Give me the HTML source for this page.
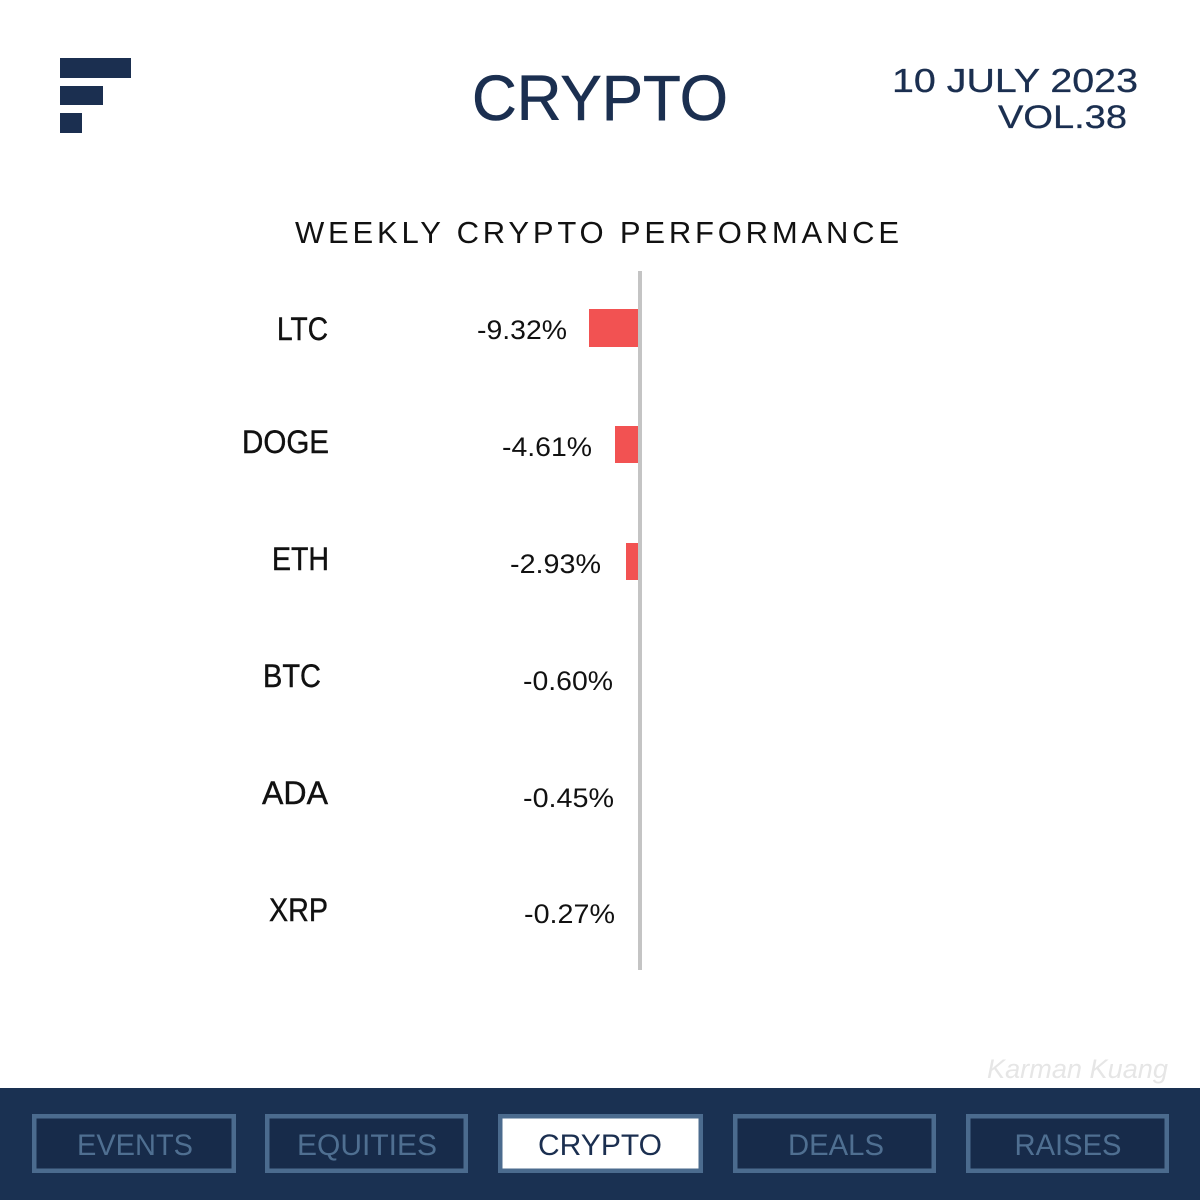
<!DOCTYPE html>
<html>
<head>
<meta charset="utf-8">
<style>
html,body{margin:0;padding:0;background:#fff;}
svg{display:block;}
text{font-family:"Liberation Sans",sans-serif;}
</style>
</head>
<body>
<svg width="1200" height="1200" viewBox="0 0 1200 1200" xmlns="http://www.w3.org/2000/svg">
  <rect x="0" y="0" width="1200" height="1200" fill="#ffffff"/>
  <!-- logo -->
  <rect x="60" y="58" width="71" height="20" fill="#1b2f50"/>
  <rect x="60" y="86" width="43" height="19" fill="#1b2f50"/>
  <rect x="60" y="113" width="22" height="20" fill="#1b2f50"/>
  <!-- header -->
  <text x="472" y="120" font-size="64" fill="#1b2f50" stroke="#1b2f50" stroke-width="0.6" textLength="256" lengthAdjust="spacingAndGlyphs">CRYPTO</text>
  <text x="892" y="92" font-size="33" fill="#1b2f50" stroke="#1b2f50" stroke-width="0.3" textLength="246" lengthAdjust="spacingAndGlyphs">10 JULY 2023</text>
  <text x="998" y="128" font-size="32" fill="#1b2f50" stroke="#1b2f50" stroke-width="0.3" textLength="129" lengthAdjust="spacingAndGlyphs">VOL.38</text>
  <!-- chart title -->
  <text x="295" y="243" font-size="31" fill="#111" textLength="604" lengthAdjust="spacing">WEEKLY CRYPTO PERFORMANCE</text>
  <!-- bars -->
  <rect x="589" y="309" width="49" height="38" fill="#f25252"/>
  <rect x="615" y="426" width="23" height="37" fill="#f25252"/>
  <rect x="626" y="543" width="12" height="37" fill="#f25252"/>
  <!-- axis -->
  <rect x="638" y="271" width="4" height="699" fill="#c4c4c4"/>
  <!-- labels -->
  <g font-size="32" fill="#111" stroke="#111" stroke-width="0.4">
    <text x="277" y="340" textLength="51" lengthAdjust="spacingAndGlyphs">LTC</text>
    <text x="242" y="453" textLength="87" lengthAdjust="spacingAndGlyphs">DOGE</text>
    <text x="272" y="570" textLength="57" lengthAdjust="spacingAndGlyphs">ETH</text>
    <text x="263" y="687" textLength="58" lengthAdjust="spacingAndGlyphs">BTC</text>
    <text x="262" y="804" textLength="66" lengthAdjust="spacingAndGlyphs">ADA</text>
    <text x="269" y="921" textLength="59" lengthAdjust="spacingAndGlyphs">XRP</text>
  </g>
  <g font-size="27" fill="#111">
    <text x="477" y="339" textLength="90" lengthAdjust="spacingAndGlyphs">-9.32%</text>
    <text x="502" y="456" textLength="90" lengthAdjust="spacingAndGlyphs">-4.61%</text>
    <text x="510" y="573" textLength="91" lengthAdjust="spacingAndGlyphs">-2.93%</text>
    <text x="523" y="690" textLength="90" lengthAdjust="spacingAndGlyphs">-0.60%</text>
    <text x="523" y="807" textLength="91" lengthAdjust="spacingAndGlyphs">-0.45%</text>
    <text x="524" y="923" textLength="91" lengthAdjust="spacingAndGlyphs">-0.27%</text>
  </g>
  <!-- watermark -->
  <text x="987" y="1078" font-size="27" font-style="italic" fill="#e6e6e6" textLength="181" lengthAdjust="spacingAndGlyphs">Karman Kuang</text>
  <!-- footer -->
  <rect x="0" y="1088" width="1200" height="112" fill="#1a3152"/>
  <g stroke="#4b6b8e" stroke-width="4.5">
    <rect x="34.25" y="1116.25" width="199.5" height="54.5" fill="#172b4a"/>
    <rect x="267.25" y="1116.25" width="198.5" height="54.5" fill="#172b4a"/>
    <rect x="500.25" y="1116.25" width="200.5" height="54.5" fill="#ffffff"/>
    <rect x="735.25" y="1116.25" width="198.5" height="54.5" fill="#172b4a"/>
    <rect x="968.25" y="1116.25" width="198.5" height="54.5" fill="#172b4a"/>
  </g>
  <g font-size="30" text-anchor="middle">
    <text x="135" y="1155" fill="#4f6f91" textLength="116" lengthAdjust="spacingAndGlyphs">EVENTS</text>
    <text x="367" y="1155" fill="#4f6f91" textLength="140" lengthAdjust="spacingAndGlyphs">EQUITIES</text>
    <text x="600" y="1155" fill="#1b2f50" textLength="124" lengthAdjust="spacingAndGlyphs">CRYPTO</text>
    <text x="836" y="1155" fill="#4f6f91" textLength="96" lengthAdjust="spacingAndGlyphs">DEALS</text>
    <text x="1068" y="1155" fill="#4f6f91" textLength="107" lengthAdjust="spacingAndGlyphs">RAISES</text>
  </g>
</svg>
</body>
</html>
